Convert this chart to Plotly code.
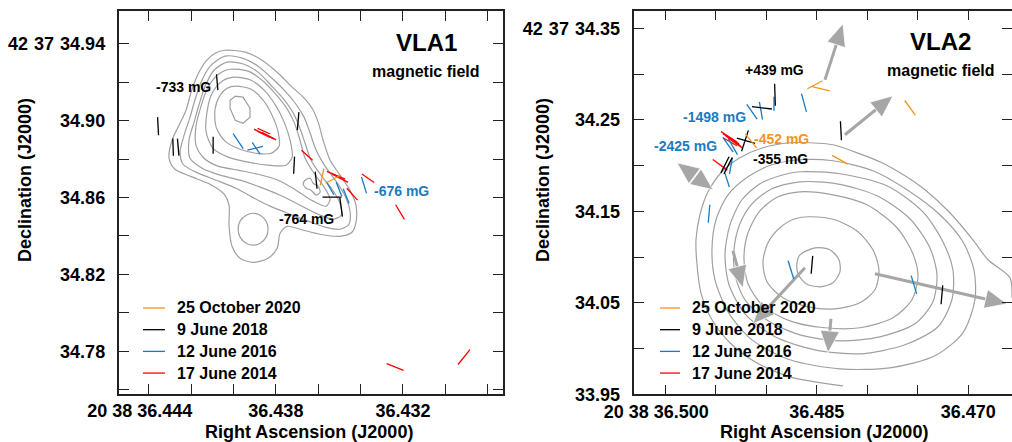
import math
import plotly.graph_objects as go

FONT = "Liberation Sans, Arial, sans-serif"
ORANGE = "#F7941D"
BLACK = "#000000"
BLUE = "#1B7BC0"
RED = "#FF0000"
GRAY = "#A0A0A0"
ARROW = "#A6A6A6"

# ---------------- axes ----------------
L_XRANGE = [36.44538, 36.42728]
L_YRANGE = [34.7578, 34.9570]
R_XRANGE = [36.50307, 36.46567]
R_YRANGE = [33.95, 34.3692]

EN = "\u2002"
TS = "\u2004"
L_XTICKS = [36.444, 36.442, 36.440, 36.438, 36.436, 36.434, 36.432, 36.430, 36.428]
L_XTICKTEXT = ["20 38 36.444" + EN + EN, "", "", "36.438", "", "", "36.432", "", ""]
L_YTICKS = [34.94, 34.92, 34.90, 34.88, 34.86, 34.84, 34.82, 34.80, 34.78, 34.76]
L_YTICKTEXT = ["42" + TS + "37" + TS + "34.94", "", "34.90", "", "34.86", "", "34.82", "", "34.78", ""]
R_XTICKS = [36.500, 36.495, 36.490, 36.485, 36.480, 36.475, 36.470]
R_XTICKTEXT = ["20 38 36.500" + EN + EN, "", "", "36.485", "", "", "36.470"]
R_YTICKS = [34.35, 34.30, 34.25, 34.20, 34.15, 34.10, 34.05, 34.00, 33.95]
R_YTICKTEXT = ["42" + TS + "37" + TS + "34.35", "", "34.25", "", "34.15", "", "34.05", "", "33.95"]

EPOCHS = ["25 October 2020", "9 June 2018", "12 June 2016", "17 June 2014"]
EPOCH_COLORS = [ORANGE, BLACK, BLUE, RED]

# ---------------- VLA1 contours (RA s, Dec arcsec) ----------------
L_C1_RA = [36.44040, 36.43945, 36.43865, 36.43789, 36.43723, 36.43671, 36.43629, 36.43600, 36.43577, 36.43544,
           36.43497, 36.43450, 36.43422, 36.43422, 36.43441, 36.43497, 36.43592, 36.43686, 36.43747, 36.43780,
           36.43794, 36.43837, 36.43908, 36.43969, 36.44007, 36.44021, 36.44021, 36.44044, 36.44111, 36.44205,
           36.44276, 36.44304, 36.44290, 36.44257, 36.44224, 36.44200, 36.44172, 36.44130, 36.44087]
L_C1_DEC = [34.9366, 34.9356, 34.9314, 34.9246, 34.9174, 34.9122, 34.9064, 34.8991, 34.8898, 34.8794,
            34.8716, 34.8637, 34.8560, 34.8471, 34.8419, 34.8398, 34.8409, 34.8435, 34.8450, 34.8414,
            34.8336, 34.8284, 34.8263, 34.8284, 34.8346, 34.8455, 34.8560, 34.8617, 34.8669, 34.8711,
            34.8747, 34.8804, 34.8898, 34.8976, 34.9054, 34.9148, 34.9231, 34.9309, 34.9350]
L_C2_RA = [36.44040, 36.43955, 36.43884, 36.43813, 36.43752, 36.43705, 36.43667, 36.43638, 36.43610, 36.43568,
           36.43516, 36.43473, 36.43450, 36.43455, 36.43497, 36.43568, 36.43648, 36.43733, 36.43827, 36.43912,
           36.43988, 36.44082, 36.44177, 36.44238, 36.44252, 36.44233, 36.44205, 36.44181, 36.44153, 36.44110]
L_C2_DEC = [34.9335, 34.9324, 34.9283, 34.9215, 34.9148, 34.9085, 34.9018, 34.8934, 34.8846, 34.8763,
            34.8685, 34.8607, 34.8529, 34.8461, 34.8435, 34.8446, 34.8477, 34.8513, 34.8555, 34.8602,
            34.8648, 34.8690, 34.8732, 34.8773, 34.8836, 34.8924, 34.9018, 34.9111, 34.9200, 34.9283]
L_C3_RA = [36.44030, 36.43950, 36.43884, 36.43823, 36.43766, 36.43723, 36.43690, 36.43662, 36.43634, 36.43587,
           36.43535, 36.43497, 36.43492, 36.43530, 36.43601, 36.43686, 36.43780, 36.43874, 36.43969, 36.44063,
           36.44148, 36.44205, 36.44210, 36.44186, 36.44162, 36.44134, 36.44092]
L_C3_DEC = [34.9304, 34.9293, 34.9252, 34.9184, 34.9116, 34.9049, 34.8971, 34.8882, 34.8794, 34.8716,
            34.8643, 34.8570, 34.8508, 34.8487, 34.8513, 34.8560, 34.8612, 34.8654, 34.8690, 34.8716,
            34.8752, 34.8804, 34.8898, 34.8992, 34.9085, 34.9179, 34.9262]
L_C4_RA = [36.44016, 36.43931, 36.43865, 36.43804, 36.43752, 36.43714, 36.43686, 36.43662, 36.43620, 36.43572,
           36.43544, 36.43563, 36.43624, 36.43705, 36.43789, 36.43884, 36.43978, 36.44073, 36.44139, 36.44177,
           36.44177, 36.44153, 36.44125, 36.44077]
L_C4_DEC = [34.9267, 34.9257, 34.9210, 34.9142, 34.9070, 34.8992, 34.8898, 34.8804, 34.8726, 34.8654,
            34.8591, 34.8555, 34.8581, 34.8638, 34.8690, 34.8721, 34.8742, 34.8763, 34.8804, 34.8872,
            34.8971, 34.9075, 34.9163, 34.9236]
L_C5_RA = [36.43997, 36.43917, 36.43851, 36.43799, 36.43761, 36.43733, 36.43723, 36.43752, 36.43837, 36.43931,
           36.44025, 36.44096, 36.44129, 36.44125, 36.44101, 36.44054]
L_C5_DEC = [34.9226, 34.9210, 34.9153, 34.9075, 34.8992, 34.8898, 34.8810, 34.8768, 34.8768, 34.8784,
            34.8810, 34.8856, 34.8940, 34.9044, 34.9142, 34.9205]
L_C6_RA = [36.43988, 36.43917, 36.43860, 36.43818, 36.43789, 36.43785, 36.43822, 36.43893, 36.43969, 36.44040,
           36.44082, 36.44087, 36.44063, 36.44030]
L_C6_DEC = [34.9179, 34.9163, 34.9106, 34.9028, 34.8940, 34.8867, 34.8830, 34.8830, 34.8851, 34.8893,
            34.8966, 34.9059, 34.9132, 34.9168]
L_C7_RA = [36.43992, 36.43955, 36.43922, 36.43922, 36.43955, 36.43992, 36.44016, 36.44016]
L_C7_DEC = [34.9127, 34.9122, 34.9064, 34.9018, 34.8986, 34.9002, 34.9064, 34.9106]
L_BLOB_RA = [36.43837, 36.43846, 36.43874, 36.43907, 36.43940, 36.43969, 36.43978, 36.43969, 36.43940, 36.43907,
             36.43874, 36.43846]
L_BLOB_DEC = [34.8435, 34.8477, 34.8508, 34.8518, 34.8508, 34.8477, 34.8435, 34.8394, 34.8362, 34.8352,
              34.8362, 34.8394]
L_KNOT_RA = [36.43662, 36.43638, 36.43624, 36.43601, 36.43591, 36.43610, 36.43634, 36.43657, 36.43671]
L_KNOT_DEC = [34.8690, 34.8700, 34.8674, 34.8659, 34.8628, 34.8612, 34.8638, 34.8648, 34.8669]

# ---------------- VLA2 contours ----------------
R_OUT_RA = [36.46568, 36.46587, 36.46805, 36.46954, 36.47182, 36.47429, 36.47627, 36.47875, 36.48073, 36.48340,
            36.48568, 36.48766, 36.49033, 36.49261, 36.49439, 36.49577, 36.49657, 36.49696, 36.49686, 36.49647,
            36.49538, 36.49360, 36.49112, 36.48766, 36.48241]
R_OUT_DEC = [34.0554, 34.0773, 34.0970, 34.1188, 34.1484, 34.1735, 34.1888, 34.2041, 34.2128, 34.2227,
             34.2249, 34.2249, 34.2194, 34.2085, 34.1932, 34.1713, 34.1462, 34.1188, 34.0915, 34.0609,
             34.0314, 34.0063, 33.9855, 33.9691, 33.9593]
R_C2_RA = [36.48667, 36.48340, 36.47944, 36.47607, 36.47281, 36.47053, 36.46944, 36.46934, 36.47053, 36.47330,
           36.47776, 36.48271, 36.48766, 36.49142, 36.49379, 36.49508, 36.49538, 36.49498, 36.49379, 36.49181,
           36.48944]
R_C2_DEC = [34.2063, 34.2052, 34.1943, 34.1735, 34.1462, 34.1167, 34.0861, 34.0533, 34.0172, 33.9921,
            33.9789, 33.9778, 33.9877, 34.0095, 34.0401, 34.0751, 34.1079, 34.1407, 34.1680, 34.1877,
            34.2008]
R_C3_RA = [36.48667, 36.48271, 36.47805, 36.47449, 36.47251, 36.47152, 36.47162, 36.47300, 36.47627, 36.48073,
           36.48518, 36.48914, 36.49211, 36.49369, 36.49409, 36.49360, 36.49241, 36.49063, 36.48865]
R_C3_DEC = [34.1932, 34.1910, 34.1779, 34.1494, 34.1167, 34.0861, 34.0533, 34.0238, 34.0041, 33.9942,
            33.9986, 34.0128, 34.0380, 34.0697, 34.1024, 34.1352, 34.1626, 34.1800, 34.1888]
R_C4_RA = [36.48667, 36.48300, 36.47904, 36.47578, 36.47380, 36.47310, 36.47350, 36.47528, 36.47875, 36.48271,
           36.48667, 36.48983, 36.49211, 36.49310, 36.49320, 36.49261, 36.49142, 36.48944]
R_C4_DEC = [34.1822, 34.1800, 34.1669, 34.1418, 34.1101, 34.0806, 34.0511, 34.0270, 34.0128, 34.0084,
            34.0150, 34.0303, 34.0533, 34.0806, 34.1079, 34.1363, 34.1582, 34.1746]
R_C5_RA = [36.48667, 36.48340, 36.48003, 36.47706, 36.47548, 36.47498, 36.47558, 36.47746, 36.48073, 36.48419,
           36.48766, 36.49033, 36.49181, 36.49221, 36.49181, 36.49063, 36.48884]
R_C5_DEC = [34.1713, 34.1680, 34.1571, 34.1320, 34.1035, 34.0784, 34.0533, 34.0336, 34.0227, 34.0227,
            34.0303, 34.0467, 34.0708, 34.0992, 34.1265, 34.1505, 34.1658]
R_C6_RA = [36.48568, 36.48320, 36.48092, 36.47944, 36.47884, 36.47924, 36.48073, 36.48320, 36.48587, 36.48835,
           36.48993, 36.49033, 36.48983, 36.48865, 36.48716]
R_C6_DEC = [34.1440, 34.1407, 34.1276, 34.1079, 34.0861, 34.0642, 34.0500, 34.0434, 34.0456, 34.0554,
            34.0729, 34.0948, 34.1156, 34.1320, 34.1418]
R_C7_RA = [36.48667, 36.48518, 36.48370, 36.48280, 36.48271, 36.48340, 36.48469, 36.48607, 36.48686, 36.48696]
R_C7_DEC = [34.1024, 34.1101, 34.1079, 34.0970, 34.0839, 34.0718, 34.0675, 34.0708, 34.0817, 34.0937]

# ---------------- magnetic-field segments: centre RA, Dec, PA (deg), length (mas) ----------------
L_2020 = dict(ra=[36.43582, 36.43530], dec=[34.8706, 34.8695], pa=[-12, -62], ln=[8.9, 8.9])
L_2018 = dict(ra=[36.44077, 36.44356, 36.44285, 36.44261, 36.44096, 36.43695, 36.43714, 36.43610, 36.43535, 36.43492],
              dec=[34.9200, 34.8971, 34.8862, 34.8862, 34.8872, 34.8997, 34.8768, 34.8690, 34.8602, 34.8550],
              pa=[5, 3, 2, 5, 0, -5, -3, 6, 90, 8],
              ln=[8.3, 9.4, 8.9, 8.9, 8.9, 9.4, 8.9, 8.9, 9.9, 9.9])
L_2016 = dict(ra=[36.43978, 36.43893, 36.43898, 36.43544, 36.43502, 36.43468, 36.43384],
              dec=[34.8893, 34.8856, 34.8856, 34.8648, 34.8643, 34.8607, 34.8664],
              pa=[34, 34, 104, 30, 22, 22, 17],
              ln=[9.4, 7.3, 8.3, 7.8, 7.8, 8.3, 8.9])
L_2014 = dict(ra=[36.43865, 36.43846, 36.43832, 36.43856, 36.43653, 36.43516, 36.43497, 36.43440, 36.43365,
                  36.43214, 36.43237, 36.42912],
              dec=[34.8934, 34.8924, 34.8919, 34.8945, 34.8820, 34.8716, 34.8700, 34.8617, 34.8700, 34.8524,
                   34.7718, 34.7770],
              pa=[63, 65, 62, 66, 48, 67, 63, 42, 55, 31, 68, -39],
              ln=[9.4, 8.9, 8.3, 7.3, 7.8, 10.4, 9.4, 8.3, 7.8, 8.9, 9.4, 9.9])

R_2020 = dict(ra=[36.49152, 36.48518, 36.48459, 36.47577, 36.48270],
              dec=[34.2270, 34.2883, 34.2839, 34.2631, 34.2063],
              pa=[39, -62, 77, 36, 61], ln=[19.7, 18.6, 19.7, 19.7, 19.7])
R_2018 = dict(ra=[36.48914, 36.49043, 36.48261, 36.49211, 36.49201, 36.49409, 36.49379, 36.48548, 36.47261],
              dec=[34.2773, 34.2631, 34.2380, 34.2270, 34.2270, 34.2008, 34.1997, 34.0915, 34.0587],
              pa=[2, 83, 3, -18, 74, -27, -27, -5, -5],
              ln=[24.0, 21.9, 20.8, 24.0, 20.8, 19.7, 19.7, 19.7, 20.8])
R_2016 = dict(ra=[36.49142, 36.49053, 36.48924, 36.48627, 36.49379, 36.49330, 36.49350, 36.49389, 36.49567,
                  36.48756, 36.47538],
              dec=[34.2587, 34.2598, 34.2675, 34.2686, 34.2227, 34.2205, 34.1997, 34.1844, 34.1473, 34.0860,
                   34.0697],
              pa=[35, 10, 0, 15, 35, 30, -10, 18, -5, 17, 17],
              ln=[19.7, 19.7, 15.3, 20.8, 19.7, 19.7, 18.6, 16.4, 19.7, 20.8, 20.8])
R_2014 = dict(ra=[36.49369, 36.49350, 36.49330, 36.49310, 36.49360, 36.49458],
              dec=[34.2314, 34.2292, 34.2270, 34.2249, 34.2260, 34.2008],
              pa=[57, 58, 56, 55, 60, 54], ln=[20.8, 20.8, 19.7, 18.6, 17.5, 19.7])

# ---------------- VLA2 proper-motion arrows: tail -> tip ----------------
ARROW_TAIL_RA = [36.48419, 36.48221, 36.49706, 36.49706, 36.49330, 36.48617, 36.48360, 36.47924]
ARROW_TAIL_DEC = [34.2937, 34.2336, 34.1882, 34.1882, 34.1068, 34.0882, 34.0325, 34.0817]
ARROW_TIP_RA = [36.48241, 36.47746, 36.49884, 36.49528, 36.49231, 36.49132, 36.48389, 36.46617]
ARROW_TIP_DEC = [34.3549, 34.2762, 34.2030, 34.1735, 34.0664, 34.0270, 33.9953, 34.0489]

# ---------------- labels ----------------
L_LABELS = [("-733 mG", 36.44238, 34.9174, BLACK), ("-764 mG", 36.43657, 34.8487, BLACK),
            ("-676 mG", 36.43209, 34.8633, BLUE)]
R_LABELS = [("+439 mG", 36.48914, 34.3047, BLACK), ("-1498 mG", 36.49508, 34.2533, BLUE),
            ("-452 mG", 36.48845, 34.2292, ORANGE), ("-2425 mG", 36.49805, 34.2216, BLUE),
            ("-355 mG", 36.48864, 34.2074, BLACK)]

COSDEC = math.cos(math.radians(42 + 37 / 60 + 34.5 / 3600))
SEC2AS = 15 * COSDEC


def segments(d):
    xs, ys = [], []
    for r, dc, p, ln in zip(d["ra"], d["dec"], d["pa"], d["ln"]):
        h = ln / 2000.0
        dd = h * math.cos(math.radians(p))
        dr = h * math.sin(math.radians(p)) / SEC2AS
        xs += [r + dr, r - dr, None]
        ys += [dc + dd, dc - dd, None]
    return xs, ys


fig = go.Figure()


def contour(xs, ys, xa, ya, closed=True, shape="spline"):
    xs = list(xs)
    ys = list(ys)
    if closed:
        xs.append(xs[0])
        ys.append(ys[0])
    fig.add_trace(go.Scatter(x=xs, y=ys, mode="lines", xaxis=xa, yaxis=ya, showlegend=False,
                             hoverinfo="skip",
                             line=dict(color=GRAY, width=1.2, shape=shape, smoothing=0.8)))


for cx, cy in [(L_C1_RA, L_C1_DEC), (L_C2_RA, L_C2_DEC), (L_C3_RA, L_C3_DEC), (L_C4_RA, L_C4_DEC),
               (L_C5_RA, L_C5_DEC), (L_C6_RA, L_C6_DEC), (L_BLOB_RA, L_BLOB_DEC), (L_KNOT_RA, L_KNOT_DEC)]:
    contour(cx, cy, "x", "y")
contour(L_C7_RA, L_C7_DEC, "x", "y", shape="linear")

contour(R_OUT_RA, R_OUT_DEC, "x2", "y2", closed=False)
for cx, cy in [(R_C2_RA, R_C2_DEC), (R_C3_RA, R_C3_DEC), (R_C4_RA, R_C4_DEC), (R_C5_RA, R_C5_DEC),
               (R_C6_RA, R_C6_DEC), (R_C7_RA, R_C7_DEC)]:
    contour(cx, cy, "x2", "y2")

# arrows
HEAD_LEN = 0.024   # arcsec
HEAD_WID = 0.021
for x0, y0, x1, y1 in zip(ARROW_TAIL_RA, ARROW_TAIL_DEC, ARROW_TIP_RA, ARROW_TIP_DEC):
    dx = (x1 - x0) * SEC2AS
    dy = (y1 - y0)
    n = math.hypot(dx, dy)
    ux, uy = dx / n, dy / n
    bx, by = -HEAD_LEN * ux, -HEAD_LEN * uy
    px, py = -uy, ux
    hx = [x1, x1 + (bx + HEAD_WID / 2 * px) / SEC2AS, x1 + (bx - HEAD_WID / 2 * px) / SEC2AS, x1]
    hy = [y1, y1 + by + HEAD_WID / 2 * py, y1 + by - HEAD_WID / 2 * py, y1]
    if n > HEAD_LEN * 1.05:
        fig.add_trace(go.Scatter(x=[x0, x1 + bx / SEC2AS * 0.9], y=[y0, y1 + by * 0.9], mode="lines",
                                 xaxis="x2", yaxis="y2", showlegend=False, hoverinfo="skip",
                                 line=dict(color=ARROW, width=3)))
    fig.add_trace(go.Scatter(x=hx, y=hy, mode="lines", fill="toself", fillcolor=ARROW,
                             xaxis="x2", yaxis="y2", showlegend=False, hoverinfo="skip",
                             line=dict(color="white", width=0.8)))

# segments
for data, col, xa, ya in [(L_2014, RED, "x", "y"), (L_2016, BLUE, "x", "y"), (L_2018, BLACK, "x", "y"),
                          (L_2020, ORANGE, "x", "y"),
                          (R_2014, RED, "x2", "y2"), (R_2016, BLUE, "x2", "y2"), (R_2018, BLACK, "x2", "y2"),
                          (R_2020, ORANGE, "x2", "y2")]:
    sx, sy = segments(data)
    fig.add_trace(go.Scatter(x=sx, y=sy, mode="lines", xaxis=xa, yaxis=ya, showlegend=False,
                             hoverinfo="skip", line=dict(color=col, width=1.3)))

annotations = []
shapes = []

# legends (one per panel), drawn as line samples + text
LEG_ROWS = [0.3032, 0.2541, 0.2050, 0.1559]
for lx0, lx1, tx in [(0.1413, 0.1630, 0.1729), (0.6522, 0.6719, 0.6818)]:
    for name, col, ry in zip(EPOCHS, EPOCH_COLORS, LEG_ROWS):
        shapes.append(dict(type="line", xref="paper", yref="paper", x0=lx0, x1=lx1, y0=ry, y1=ry,
                           line=dict(color=col, width=1.3)))
        annotations.append(dict(text=name, x=tx, y=ry, xref="paper", yref="paper", xanchor="left",
                                yanchor="middle", showarrow=False,
                                font=dict(family=FONT, size=16, color="black", weight="bold")))

for txt, x, y, c in L_LABELS:
    annotations.append(dict(text=txt, x=x, y=y, xref="x", yref="y", showarrow=False,
                            font=dict(family=FONT, size=14, color=c, weight="bold")))
for txt, x, y, c in R_LABELS:
    annotations.append(dict(text=txt, x=x, y=y, xref="x2", yref="y2", showarrow=False,
                            font=dict(family=FONT, size=14, color=c, weight="bold")))
for name, xr, yr, x, y1, y2 in [("VLA1", "x", "y", 36.43091, 34.9408, 34.9257),
                                ("VLA2", "x2", "y2", 36.47271, 34.3353, 34.3036)]:
    annotations.append(dict(text=name, x=x, y=y1, xref=xr, yref=yr, showarrow=False,
                            font=dict(family=FONT, size=24, color="black", weight="bold")))
    annotations.append(dict(text="magnetic field", x=x, y=y2, xref=xr, yref=yr, showarrow=False,
                            font=dict(family=FONT, size=16, color="black", weight="bold")))
for xp in [0.3053, 0.8142]:
    annotations.append(dict(text="Right Ascension (J2000)", x=xp, y=0.0226, xref="paper", yref="paper",
                            xanchor="center", yanchor="middle",
                            showarrow=False, font=dict(family=FONT, size=18, color="black", weight="bold")))
for xp in [0.0247, 0.5366]:
    annotations.append(dict(text="Declination (J2000)", x=xp, y=0.5928, xref="paper", yref="paper",
                            xanchor="center", yanchor="middle",
                            textangle=-90, showarrow=False,
                            font=dict(family=FONT, size=18, color="black", weight="bold")))

axis_common = dict(showline=True, linecolor="#222222", linewidth=1.5, mirror="ticks", ticks="inside",
                   ticklen=10, tickwidth=1.3, tickcolor="#222222", showgrid=False, zeroline=False,
                   automargin=False,
                   tickfont=dict(family=FONT, size=18, color="black", weight="bold"))

fig.update_layout(
    width=1012, height=442, margin=dict(l=0, r=0, t=0, b=0, autoexpand=False),
    paper_bgcolor="white", plot_bgcolor="white", showlegend=False,
    xaxis=dict(domain=[0.11808, 0.49704], range=L_XRANGE, anchor="y", tickvals=L_XTICKS,
               ticktext=L_XTICKTEXT, ticklabelstandoff=0, **axis_common),
    yaxis=dict(domain=[0.1086, 0.9751], range=L_YRANGE, anchor="x", tickvals=L_YTICKS,
               ticktext=L_YTICKTEXT, ticklabelstandoff=9, **axis_common),
    xaxis2=dict(domain=[0.62678, 1.0], range=R_XRANGE, anchor="y2", tickvals=R_XTICKS,
                ticktext=R_XTICKTEXT, ticklabelstandoff=0, **axis_common),
    yaxis2=dict(domain=[0.10792, 0.97579], range=R_YRANGE, anchor="x2", tickvals=R_YTICKS,
                ticktext=R_YTICKTEXT, ticklabelstandoff=9, **axis_common),
    annotations=annotations,
    shapes=shapes,
)

fig.write_html("out.html", config={"displayModeBar": False},
               post_script="document.body.style.margin='0';document.body.style.overflow='hidden';")
